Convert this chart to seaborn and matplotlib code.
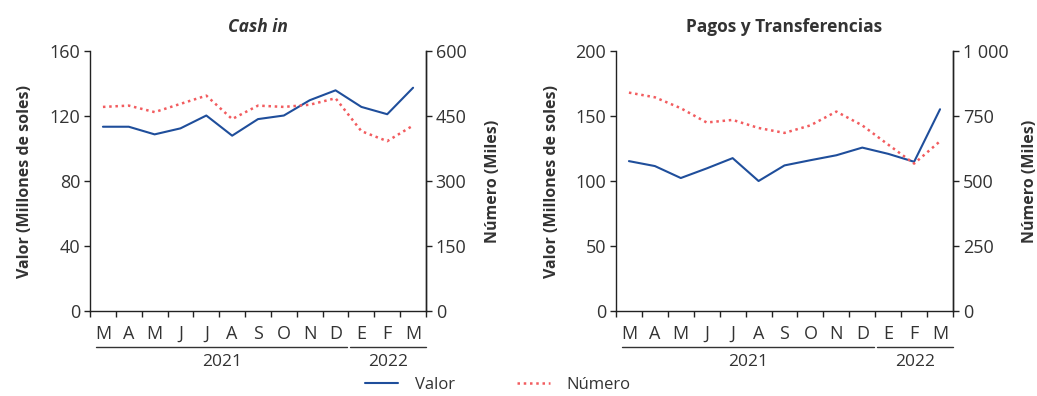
import numpy as np
import pandas as pd
import matplotlib
matplotlib.use("Agg")
import matplotlib.pyplot as plt
import seaborn as sns
from matplotlib.ticker import FuncFormatter, FixedLocator

months = ["M", "A", "M", "J", "J", "A", "S", "O", "N", "D", "E", "F", "M"]
years = [("2021", -0.25, 9.45), ("2022", 9.55, 12.5)]

cash_valor = [113.4, 113.4, 108.7, 112.4, 120.3, 107.9, 118.1, 120.3, 129.7, 135.8, 125.6, 121.1, 137.4]
cash_numero = [471, 474, 459, 478, 497, 443, 474, 471, 476, 491, 415, 392, 428]

pagos_valor = [115.3, 111.5, 102.3, 109.7, 117.6, 100.0, 112.0, 116.0, 119.8, 125.7, 120.9, 114.8, 155.2]
pagos_numero = [840, 822, 780, 725, 735, 704, 685, 714, 767, 714, 640, 567, 653]

BLUE = "#1f4e9b"
RED = "#f25c5f"
TXT = "#333333"

sns.set_theme(style="white")
plt.rcParams["font.family"] = ["Open Sans", "DejaVu Sans"]
plt.rcParams["text.color"] = TXT
plt.rcParams["axes.labelcolor"] = TXT
plt.rcParams["xtick.color"] = TXT
plt.rcParams["ytick.color"] = TXT

fig = plt.figure(figsize=(10.37, 3.96), dpi=100)
ax1 = fig.add_axes([0.0868, 0.2146, 0.324, 0.6566])
ax2 = fig.add_axes([0.594, 0.2146, 0.325, 0.6566])


def space_fmt(v, pos):
    return f"{int(v):,}".replace(",", " ")


def draw(ax, valor, numero, lmax, lstep, rmax, rstep, title, italic, lpad, rpad):
    df = pd.DataFrame({"x": np.arange(len(months)), "valor": valor, "numero": numero})
    sns.lineplot(data=df, x="x", y="valor", ax=ax, color=BLUE, lw=1.5, label="Valor", legend=False)
    axr = ax.twinx()
    sns.lineplot(data=df, x="x", y="numero", ax=axr, color=RED, lw=1.8,
                 linestyle=(0, (1, 1.5)), label="Número", legend=False)

    ax.set_xlim(-0.5, len(months) - 0.5)
    ax.set_ylim(0, lmax)
    axr.set_ylim(0, rmax)
    ax.set_yticks(np.arange(0, lmax + 1, lstep))
    axr.set_yticks(np.arange(0, rmax + 1, rstep))
    axr.yaxis.set_major_formatter(FuncFormatter(space_fmt))

    ax.set_xticks(np.arange(len(months)))
    ax.set_xticklabels(months)
    ax.xaxis.set_minor_locator(FixedLocator(np.arange(-0.5, len(months), 1.0)))
    ax.tick_params(axis="x", which="major", length=0, pad=10, labelsize=13)
    ax.tick_params(axis="x", which="minor", length=4, width=1, direction="out", color="#222222", bottom=True)
    ax.tick_params(axis="y", length=4, width=1, direction="out", color="#222222", labelsize=13, left=True, pad=3)
    axr.tick_params(axis="y", length=4, width=1, direction="out", color="#222222", labelsize=13, right=True, pad=3)

    for a in (ax, axr):
        a.spines["top"].set_visible(False)
        for s in ("left", "right", "bottom"):
            a.spines[s].set_color("#222222")
            a.spines[s].set_linewidth(1.0)
        a.grid(False)
    axr.spines["left"].set_visible(False)
    axr.spines["bottom"].set_visible(False)

    ax.set_xlabel("")
    ax.set_ylabel("Valor (Millones de soles)", fontsize=11.5, fontweight="bold", labelpad=lpad)
    axr.set_ylabel("Número (Miles)", fontsize=11.5, fontweight="bold", labelpad=rpad)
    ax.set_title(title, fontsize=12.5, fontweight="bold", style="italic" if italic else "normal", pad=14)

    tr = ax.get_xaxis_transform()
    for lab, x0, x1 in years:
        ax.plot([x0, x1], [-0.138, -0.138], transform=tr, color="#333333", lw=1.0, clip_on=False)
        ax.text((x0 + x1) / 2, -0.195, lab, transform=tr, ha="center", va="center", fontsize=12.5)
    return axr


r1 = draw(ax1, cash_valor, cash_numero, 160, 40, 600, 150, "Cash in", True, 12, 13)
r2 = draw(ax2, pagos_valor, pagos_numero, 200, 50, 1000, 250, "Pagos y Transferencias", False, 11, 10)

h1, l1 = ax1.get_legend_handles_labels()
h2, l2 = r1.get_legend_handles_labels()
fig.legend(h1 + h2, l1 + l2, loc="center", bbox_to_anchor=(0.48, 0.028), ncol=2,
           frameon=False, fontsize=12, handlelength=2.0, columnspacing=3.7, handletextpad=1.0,
           borderaxespad=0, borderpad=0)

fig.savefig("out.png", dpi=100)
